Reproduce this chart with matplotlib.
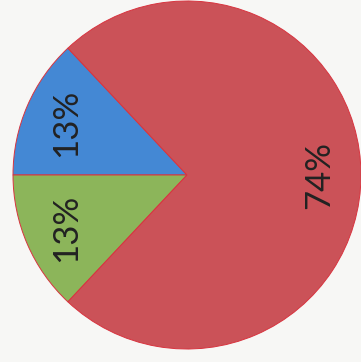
import matplotlib
matplotlib.use("Agg")
import matplotlib.pyplot as plt

labels = ["13%", "13%", "74%"]
values = [13, 13, 74]
colors = ["#4488d4", "#8cb55a", "#cb5258"]

fig = plt.figure(figsize=(3.61, 3.62), dpi=100)
fig.patch.set_facecolor("#f7f7f5")
ax = fig.add_axes([0, 0, 1, 1])
ax.set_facecolor("#f7f7f5")

start = 180 - values[0] / sum(values) * 360
wedges, texts = ax.pie(values, colors=colors, startangle=start,
                       center=(187, 187), radius=174,
                       labels=labels, labeldistance=0.76,
                       wedgeprops=dict(edgecolor="#d8343f", linewidth=0.7),
                       textprops=dict(fontsize=25, color="#222222",
                                      family="Lato", rotation=90,
                                      ha="center", va="center"))
for t in texts:
    t.set_rotation(90)
    t.set_horizontalalignment("center")
    t.set_verticalalignment("center")

ax.set_xlim(0, 361)
ax.set_ylim(0, 362)
ax.set_aspect("equal")
ax.axis("off")
fig.savefig("out.png", dpi=100, facecolor=fig.get_facecolor())
